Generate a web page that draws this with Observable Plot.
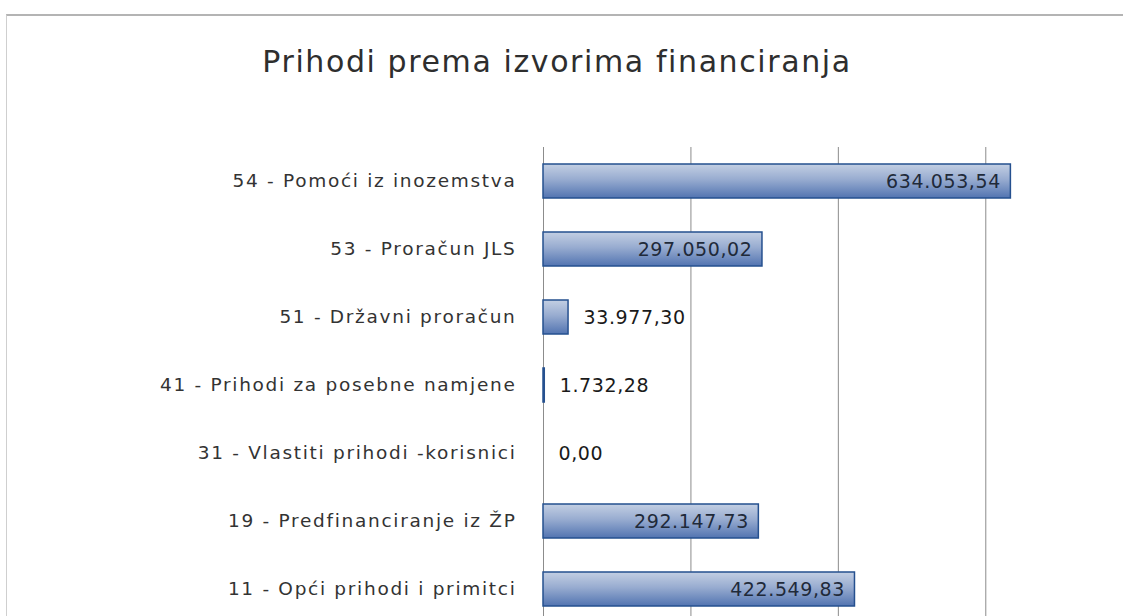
<!DOCTYPE html>
<html>
<head>
<meta charset="utf-8">
<script src="https://cdn.jsdelivr.net/npm/d3@7"></script>
<script src="https://cdn.jsdelivr.net/npm/@observablehq/plot@0.6"></script>
<style>
  html, body { margin: 0; padding: 0; background: #fff; overflow: hidden; width: 1123px; height: 616px; }
  #frame { position: absolute; left: 6px; top: 14px; width: 1200px; height: 700px;
           border-top: 2px solid #b4b4b4; border-left: 1px solid #cfcfcf; }
  #title { position: absolute; left: 0; top: 44px; width: 1114px; text-align: center;
           font-family: "DejaVu Sans", sans-serif; font-size: 30px; letter-spacing: 1.6px;
           color: #2e2e2e; font-weight: 400; }
  #chart { position: absolute; left: 0; top: 0; }
</style>
</head>
<body>
<div id="frame"></div>
<div id="title">Prihodi prema izvorima financiranja</div>
<div id="chart"></div>
<script>
const categories = [
  "54 - Pomoći iz inozemstva",
  "53 - Proračun JLS",
  "51 - Državni proračun",
  "41 - Prihodi za posebne namjene",
  "31 - Vlastiti prihodi -korisnici",
  "19 - Predfinanciranje iz ŽP",
  "11 - Opći prihodi i primitci"
];
const values = [634053.54, 297050.02, 33977.30, 1732.28, 0, 292147.73, 422549.83];
const gridTicks = [0, 200000, 400000, 600000];
const xMax = 700000;

const hr = d3.formatLocale({decimal: ",", thousands: ".", grouping: [3]});
const fmt = hr.format(",.2f");

const data = categories.map((c, i) => ({category: c, value: values[i]}));
const big = d => d.value > 100000;

const chart = Plot.plot({
  width: 1123,
  height: 640,
  marginLeft: 543,
  marginRight: 64,
  marginTop: 147,
  marginBottom: 17,
  style: {fontFamily: "DejaVu Sans, sans-serif", background: "transparent"},
  x: {domain: [0, xMax], axis: null},
  y: {domain: categories, paddingInner: 0.5, paddingOuter: 0.25, label: null},
  marks: [
    Plot.ruleX(gridTicks, {stroke: "#8c8c8c", strokeWidth: 1}),
    Plot.barX(data, {
      x: "value", y: "category",
      fill: "url(#barGrad)", stroke: "#25508f", strokeWidth: 1.5,
      filter: d => d.value > 0
    }),
    Plot.text(data.filter(big), {
      x: "value", y: "category", text: d => fmt(d.value),
      textAnchor: "end", dx: -10, fontSize: 19, fill: "#1f2a3a", className: "vallabel"
    }),
    Plot.text(data.filter(d => !big(d)), {
      x: "value", y: "category", text: d => fmt(d.value),
      textAnchor: "start", dx: 15, fontSize: 19, fill: "#1a1a1a", className: "vallabel"
    }),
    Plot.axisY({tickSize: 0, tickPadding: 27, fontSize: 18.5, color: "#333", label: null, className: "ylabels"})
  ]
});

chart.querySelectorAll(".ylabels text").forEach(t => t.setAttribute("letter-spacing", "1.7"));
chart.querySelectorAll(".vallabel text").forEach(t => t.setAttribute("letter-spacing", "0.6"));

const ns = "http://www.w3.org/2000/svg";
const defs = document.createElementNS(ns, "defs");
const grad = document.createElementNS(ns, "linearGradient");
grad.setAttribute("id", "barGrad");
grad.setAttribute("x1", "0"); grad.setAttribute("y1", "0");
grad.setAttribute("x2", "0"); grad.setAttribute("y2", "1");
[["0", "#c3cfe3"], ["0.45", "#98acd0"], ["1", "#5274b1"]].forEach(([o, c]) => {
  const s = document.createElementNS(ns, "stop");
  s.setAttribute("offset", o); s.setAttribute("stop-color", c);
  grad.appendChild(s);
});
defs.appendChild(grad);
chart.insertBefore(defs, chart.firstChild);

document.getElementById("chart").appendChild(chart);
</script>
</body>
</html>
